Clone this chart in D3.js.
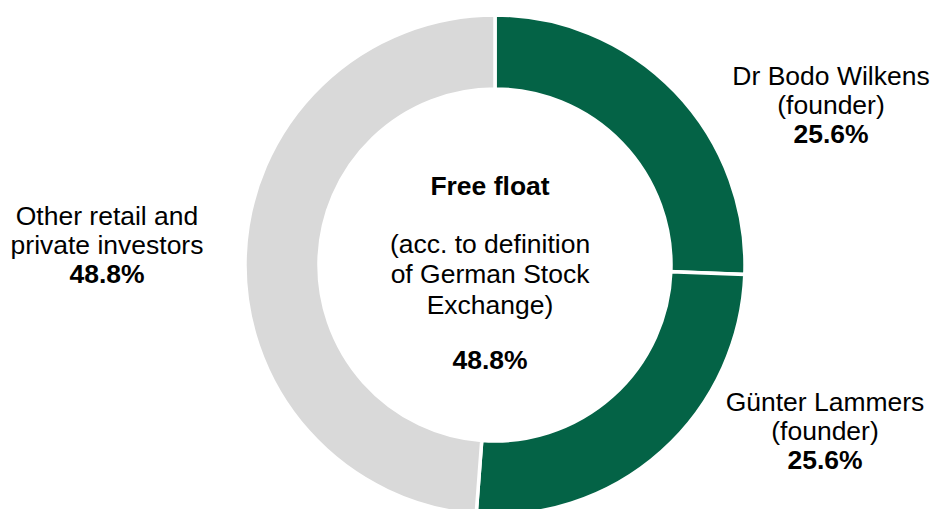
<!DOCTYPE html>
<html>
<head>
<meta charset="utf-8">
<script src="https://cdn.jsdelivr.net/npm/d3@7"></script>
<style>
  body { margin: 0; background: #fff; }
  text { font-family: "Liberation Sans", Arial, sans-serif; fill: #000; }
</style>
</head>
<body>
<div id="chart"></div>
<script>
var svgWidth = 935;
var svgHeight = 509;

// shareholder structure
var holders = ["Dr Bodo Wilkens", "Günter Lammers", "Other retail and private investors"];
var shares = [25.6, 25.6, 48.8];
var colors = ["#046346", "#046346", "#d9d9d9"];

var cx = 495, cy = 265;
var outerR = 250, innerR = 176;
var fontSize = 25, stretch = 1.06;

var svg = d3.select("#chart")
  .append("svg")
  .attr("width", svgWidth)
  .attr("height", svgHeight);

var pie = d3.pie().sort(null).value(d => d);
var arc = d3.arc().innerRadius(innerR).outerRadius(outerR);

var g = svg.append("g").attr("transform", `translate(${cx},${cy})`);

g.selectAll("path")
  .data(pie(shares))
  .enter()
  .append("path")
  .attr("d", arc)
  .attr("fill", (d, i) => colors[i])
  .attr("stroke", "#fff")
  .attr("stroke-width", 3.5);

// writes a block of centred lines, last one bold if asked
function textBlock(x, y, lines, step, boldIdx) {
  var t = svg.append("text")
    .attr("transform", `translate(${x},${y}) scale(${stretch},1)`)
    .attr("text-anchor", "middle")
    .style("font-size", fontSize + "px");
  lines.forEach(function(line, i) {
    t.append("tspan")
      .attr("x", 0)
      .attr("y", i * step)
      .style("font-weight", boldIdx.indexOf(i) >= 0 ? "bold" : "normal")
      .text(line);
  });
}

textBlock(831, 85, ["Dr Bodo Wilkens", "(founder)", shares[0].toFixed(1) + "%"], 29, [2]);
textBlock(825, 411, ["Günter Lammers", "(founder)", shares[1].toFixed(1) + "%"], 29, [2]);
textBlock(107, 225, ["Other retail and", "private investors", shares[2].toFixed(1) + "%"], 29, [2]);

// center text
textBlock(490, 195, ["Free float"], 0, [0]);
textBlock(490, 253, ["(acc. to definition", "of German Stock", "Exchange)"], 30.5, []);
textBlock(490, 369, [shares[2].toFixed(1) + "%"], 0, [0]);
</script>
</body>
</html>
